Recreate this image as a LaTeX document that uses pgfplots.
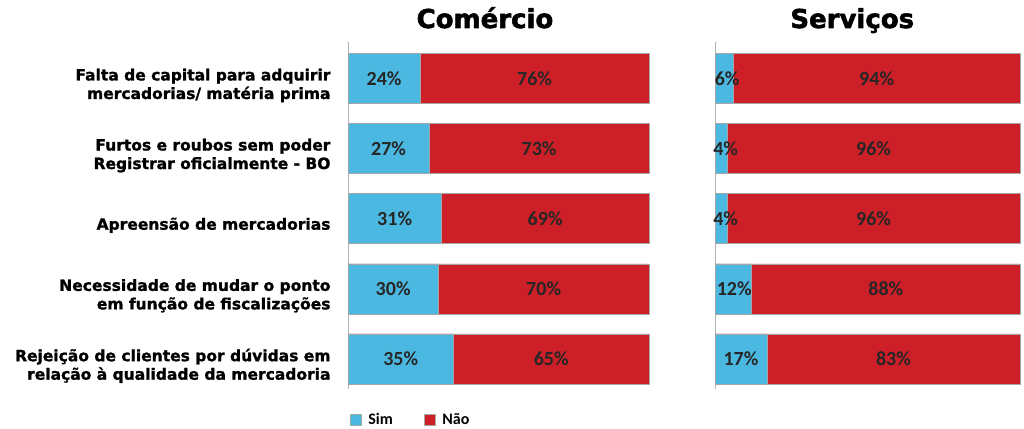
\documentclass[border=0pt]{standalone}
\usepackage{pgfplots}
\pgfplotsset{compat=1.18}
\usepackage{fontspec}
\setmainfont{DejaVu Sans}
\newfontfamily\heavy{DejaVu Sans Bold}[FakeBold=1.3]
\newfontfamily\heavytitle{DejaVu Sans Bold}[FakeBold=2]
\newfontfamily\valfont{Carlito}
\definecolor{simc}{HTML}{4BB8E2}
\definecolor{naoc}{HTML}{CC1F27}
\pgfplotsset{
  common/.style={
    scale only axis, height=347pt,
    xmin=0, xmax=100, ymin=-0.52, ymax=4.43, y dir=reverse,
    axis x line=none, axis y line*=left,
    y axis line style={gray!60, line width=0.8pt},
    ytick=\empty, xtick=\empty,
    anchor=north west,
    clip=false,
  },
  bars/.style={xbar, bar width=50pt, bar shift=0pt, draw=gray!70, line width=0.4pt},
  vals/.style={only marks, mark=none, nodes near coords, point meta=explicit symbolic,
    every node near coord/.style={anchor=center, font=\valfont\fontsize{20}{22}\selectfont\bfseries, text=black!85}},
}
\begin{document}
\begin{tikzpicture}
\useasboundingbox (0pt,0pt) rectangle (1024pt,428pt);
\begin{axis}[common, width=301pt, at={(348pt,386pt)},
  ytick={0,1,2,3,4},
  yticklabels={{Falta de capital para adquirir\\mercadorias/ matéria prima},
               {Furtos e roubos sem poder\\Registrar oficialmente - BO},
               {\raisebox{4pt}{Apreensão de mercadorias}},
               {Necessidade de mudar o ponto\\em função de fiscalizações},
               {Rejeição de clientes por dúvidas em\\relação à qualidade da mercadoria}},
  yticklabel style={align=right, font=\heavy\fontsize{15.5}{18.5}\selectfont, xshift=-14pt, yshift=-7pt},
  major tick length=0pt,
  legend style={at={(0,-0.088)}, anchor=west, xshift=2pt, draw=none, inner sep=0pt, outer sep=0pt,
    font=\valfont\fontsize{16}{17}\selectfont\bfseries,
    /tikz/every odd column/.append style={column sep=5pt},
    /tikz/every even column/.append style={column sep=29pt},
    nodes={inner sep=2pt, text height=11pt, text depth=2pt}},
  legend columns=2,
  legend image code/.code={\draw[#1, draw=gray!70] (0pt,-5.5pt) rectangle (11pt,5.5pt);},
]
\addplot[bars, fill=naoc, forget plot] coordinates {(100,0) (100,1) (100,2) (100,3) (100,4)};
\addplot[bars, fill=simc, forget plot] coordinates {(24,0) (27,1) (31,2) (30,3) (35,4)};
\addplot[vals, forget plot] coordinates {(12,0) [24\%] (13.5,1) [27\%] (15.5,2) [31\%] (15,3) [30\%] (17.5,4) [35\%]};
\addplot[vals, forget plot] coordinates {(62,0) [76\%] (63.5,1) [73\%] (65.5,2) [69\%] (65,3) [70\%] (67.5,4) [65\%]};
\addlegendimage{fill=simc}
\addlegendentry{Sim}
\addlegendimage{fill=naoc}
\addlegendentry{Não}
\node[font=\heavytitle\fontsize{26}{28}\selectfont, anchor=base] at ([yshift=14pt]axis description cs:0.455,1) {Comércio};
\end{axis}
\begin{axis}[common, width=305pt, at={(715pt,386pt)}]
\addplot[bars, fill=naoc] coordinates {(100,0) (100,1) (100,2) (100,3) (100,4)};
\addplot[bars, fill=simc] coordinates {(6,0) (4,1) (4,2) (12,3) (17,4)};
\addplot[vals] coordinates {(4,0) [6\%] (3.5,1) [4\%] (3.5,2) [4\%] (6.3,3) [12\%] (8.5,4) [17\%]};
\addplot[vals] coordinates {(53,0) [94\%] (52,1) [96\%] (52,2) [96\%] (56,3) [88\%] (58.5,4) [83\%]};
\node[font=\heavytitle\fontsize{26}{28}\selectfont, anchor=base] at ([yshift=14pt]axis description cs:0.45,1) {Serviços};
\end{axis}
\end{tikzpicture}
\end{document}
